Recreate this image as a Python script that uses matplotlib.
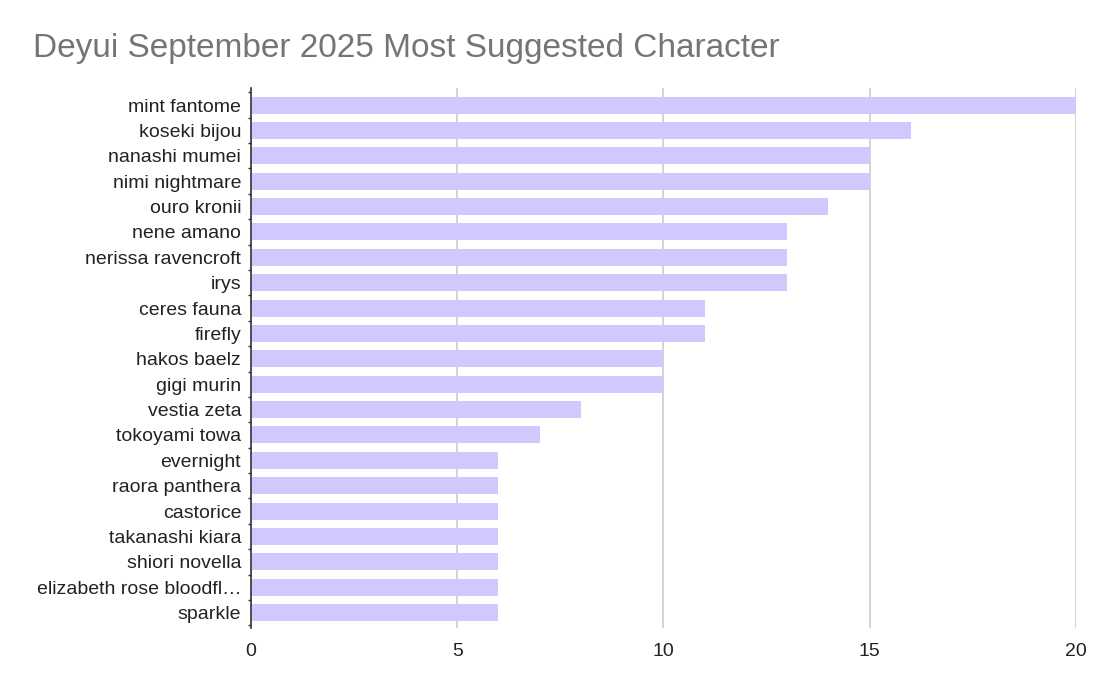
import matplotlib.pyplot as plt
import numpy as np

plt.rcParams['font.family'] = ['Liberation Sans', 'DejaVu Sans']

names = ["mint fantome", "koseki bijou", "nanashi mumei", "nimi nightmare",
         "ouro kronii", "nene amano", "nerissa ravencroft", "irys",
         "ceres fauna", "firefly", "hakos baelz", "gigi murin", "vestia zeta",
         "tokoyami towa", "evernight", "raora panthera", "castorice",
         "takanashi kiara", "shiori novella", "elizabeth rose bloodfl\u2026",
         "sparkle"]
counts = [20, 16, 15, 15, 14, 13, 13, 13, 11, 11, 10, 10, 8, 7, 6, 6, 6, 6, 6, 6, 6]
xticks = [0, 5, 10, 15, 20]

fig = plt.figure(figsize=(11.07, 6.93), dpi=100)
ax = fig.add_axes([0.2267, 0.094, 0.9720 - 0.2267, 0.873 - 0.094])

y = np.arange(len(names))
ax.barh(y, counts, height=0.67, color="#cfc9fe", zorder=2)

ax.set_xlim(0, 20)
ax.set_ylim(len(names) - 0.4, -0.67)
ax.set_yticks(y)
ax.set_yticklabels(names, fontsize=14, color="#222222")
ax.set_yticks(np.arange(len(names) + 1) - 0.5, minor=True)
ax.tick_params(axis="y", which="major", length=0, pad=7)
ax.tick_params(axis="y", which="minor", length=2, width=1, color="#333333")
ax.set_xticks(xticks)
ax.set_xticklabels([str(t) for t in xticks], fontsize=14, color="#222222")
ax.tick_params(axis="x", length=0, pad=11)

ax.grid(axis="x", color="#cccccc", linewidth=1.2, zorder=0)
for s in ["top", "right", "bottom"]:
    ax.spines[s].set_visible(False)
ax.spines["left"].set_color("#333333")
ax.spines["left"].set_linewidth(1.2)
ax.spines["left"].set_zorder(3)

fig.text(0.030, 0.930, "Deyui September 2025 Most Suggested Character",
         fontsize=24, color="#757575", ha="left", va="center")

fig.savefig("out.png", dpi=100)
